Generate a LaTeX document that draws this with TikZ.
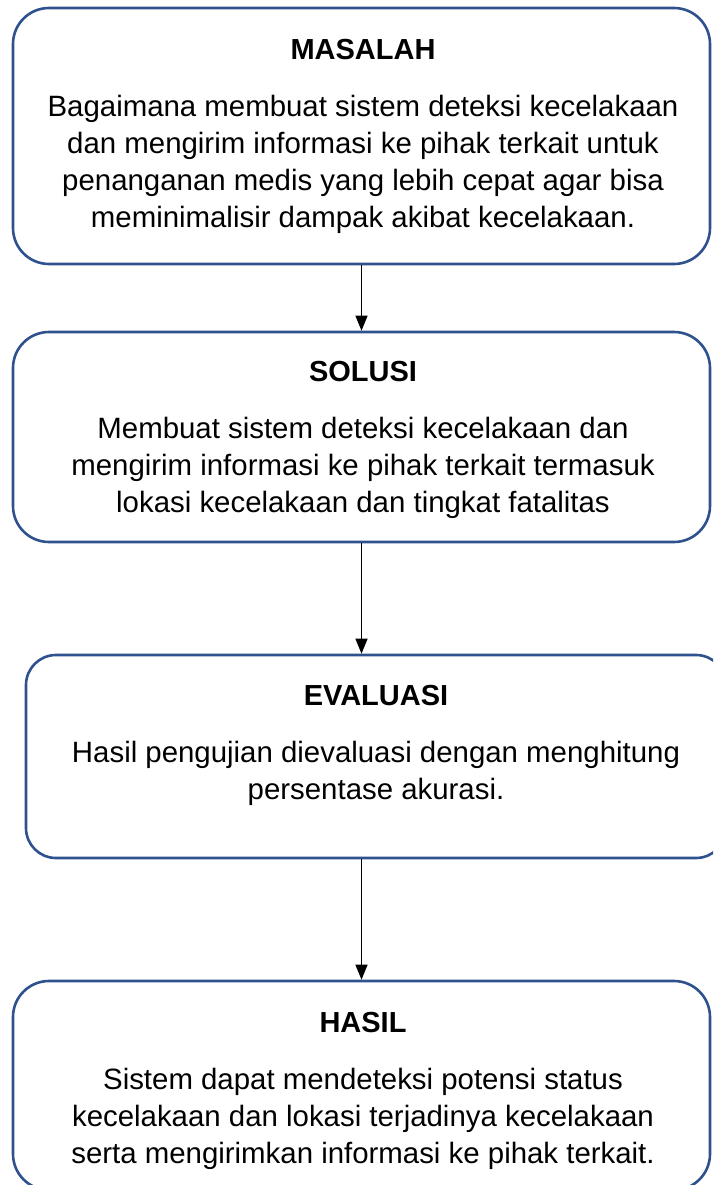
\documentclass[tikz,border=0pt]{standalone}
\usepackage{fontspec}
\setmainfont{Liberation Sans}
\usetikzlibrary{arrows.meta}
\definecolor{boxblue}{RGB}{47,82,143}
\tikzset{
  flowbox/.style={draw=boxblue, line width=2.6pt, rounded corners=36pt, rectangle, inner sep=0pt, fill=white},
  ttl/.style={anchor=base, font=\fontsize{29}{37}\selectfont\bfseries, inner sep=0pt},
  bodytxt/.style={anchor=base, align=center, font=\fontsize{29.4}{36.7}\selectfont, inner sep=0pt},
  arr/.style={line width=1.3pt, -{Triangle[length=15pt,width=12pt]}}
}
\begin{document}
\begin{tikzpicture}[x=1pt,y=-1pt]
\useasboundingbox (0,0) rectangle (713,1185);
\clip (0,0) rectangle (713,1185);
\fill[white] (0,0) rectangle (713,1185);
% boxes
\node[flowbox, minimum width=697pt, minimum height=256pt] (b1) at (361.5,136) {};
\node[flowbox, minimum width=697pt, minimum height=210pt] (b2) at (361.5,437) {};
\node[flowbox, rounded corners=30pt, minimum width=700pt, minimum height=203pt] (b3) at (376,756.5) {};
\node[flowbox, minimum width=697pt, minimum height=209pt] (b4) at (361.5,1085.5) {};
% texts (base anchor = baseline of the last line)
\node[ttl] (t1) at (363,60) {MASALAH};
\node[bodytxt] (x1) at (363,227) {Bagaimana membuat sistem deteksi kecelakaan\\dan mengirim informasi ke pihak terkait untuk\\penanganan medis yang lebih cepat agar bisa\\meminimalisir dampak akibat kecelakaan.};
\node[ttl] (t2) at (363,381) {SOLUSI};
\node[bodytxt] (x2) at (363,512) {Membuat sistem deteksi kecelakaan dan\\mengirim informasi ke pihak terkait termasuk\\lokasi kecelakaan dan tingkat fatalitas};
\node[ttl] (t3) at (376,705) {EVALUASI};
\node[bodytxt] (x3) at (376,799) {Hasil pengujian dievaluasi dengan menghitung\\persentase akurasi.};
\node[ttl] (t4) at (363,1032) {HASIL};
\node[bodytxt] (x4) at (363,1163) {Sistem dapat mendeteksi potensi status\\kecelakaan dan lokasi terjadinya kecelakaan\\serta mengirimkan informasi ke pihak terkait.};
% arrows
\draw[arr] (b1.south) -- (b2.north);
\draw[arr] (b2.south) -- (b3.north -| b2.south);
\draw[arr] (b3.south -| b4.north) -- (b4.north);
\end{tikzpicture}
\end{document}
